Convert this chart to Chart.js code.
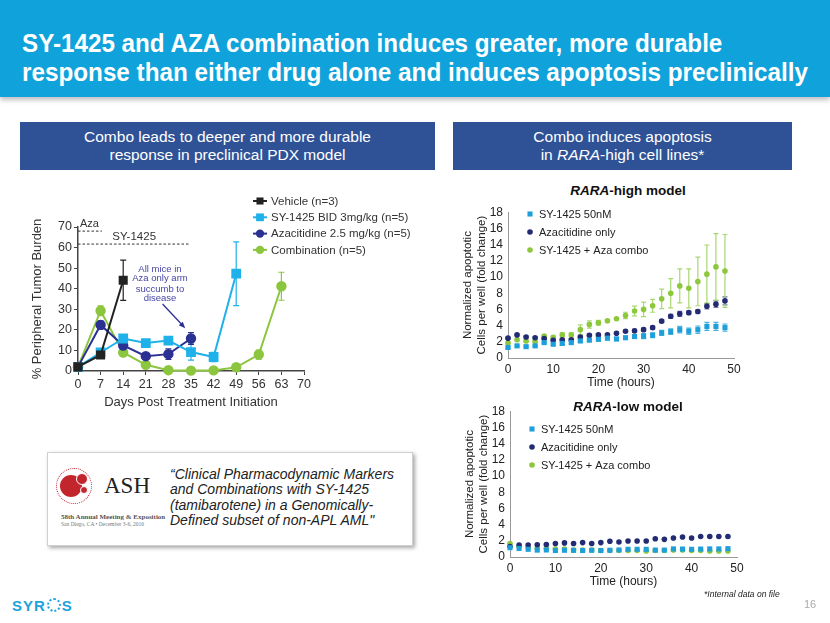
<!DOCTYPE html>
<html>
<head>
<meta charset="utf-8">
<script src="https://cdn.jsdelivr.net/npm/chart.js@4.4.0/dist/chart.umd.min.js"></script>
<style>
  body { margin:0; width:830px; height:623px; position:relative; overflow:hidden; background:#fff;
         font-family:"Liberation Sans", Arial, sans-serif; }
  #header { position:absolute; left:0; top:0; width:830px; height:97px; background:#0fa2db;
            box-shadow:0 3px 5px rgba(0,0,0,0.25); }
  .ttl { position:absolute; left:22px; color:#fff; font-weight:bold; font-size:25px; white-space:nowrap;
         transform-origin:0 50%; line-height:30px; }
  .box { position:absolute; top:122px; height:48px; background:#2f5297; color:#fff; font-size:15.5px;
         text-align:center; line-height:18px; display:flex; align-items:center; justify-content:center; }
  canvas { position:absolute; }
  .ctitle { position:absolute; font-weight:bold; font-size:13.5px; color:#111; white-space:nowrap;
            transform:translate(-50%,-50%); }
  #ash { position:absolute; left:47px; top:452px; width:364px; height:92px; background:#fff;
         border:1px solid #d0d0d0; box-shadow:2px 2px 4px rgba(0,0,0,0.35); }
  .quote { position:absolute; left:122px; top:14px; font-style:italic; font-size:14px; line-height:15.4px;
           color:#222; white-space:nowrap; }
</style>
</head>
<body>
<div id="header">
  <div class="ttl" id="t1" style="top:28px">SY-1425 and AZA combination induces greater, more durable</div>
  <div class="ttl" id="t2" style="top:57px">response than either drug alone and induces apoptosis preclinically</div>
</div>

<div class="box" style="left:20px;width:415px"><div>Combo leads to deeper and more durable<br>response in preclinical PDX model</div></div>
<div class="box" style="left:453px;width:339px"><div>Combo induces apoptosis<br>in <i>RARA</i>-high cell lines*</div></div>

<canvas id="pdx" width="390" height="225" style="left:20px;top:190px"></canvas>
<canvas id="high" width="290" height="192" style="left:458px;top:200px"></canvas>
<canvas id="low" width="291" height="192" style="left:460px;top:399px"></canvas>

<div class="ctitle" style="left:628px;top:190px"><i>RARA</i>-high model</div>
<div class="ctitle" style="left:628px;top:406px"><i>RARA</i>-low model</div>

<div id="ash">
  <div style="position:absolute;left:8px;top:15px;width:34px;height:34px;border-radius:50%;border:1px dotted #c3252d;"></div>
  <div style="position:absolute;left:12px;top:22px;width:22px;height:22px;border-radius:50%;background:#c3252d;"></div>
  <div style="position:absolute;left:28px;top:20px;width:10px;height:10px;border-radius:50%;background:#c3252d;border:1.5px solid #fff;"></div>
  <div style="position:absolute;left:32px;top:33px;width:6px;height:6px;border-radius:50%;background:#c3252d;border:1px solid #fff;"></div>
  <div style="position:absolute;left:56px;top:20px;font-family:'Liberation Serif',serif;font-size:23px;color:#222;">ASH</div>
  <div style="position:absolute;left:13px;top:60px;font-family:'Liberation Serif',serif;font-size:7px;color:#555;white-space:nowrap;font-weight:bold;">58th Annual Meeting &amp; Exposition</div>
  <div style="position:absolute;left:13px;top:68px;font-family:'Liberation Serif',serif;font-size:5.5px;color:#777;white-space:nowrap;">San Diego, CA • December 3-6, 2016</div>
  <div class="quote">“Clinical Pharmacodynamic Markers<br>and Combinations with SY-1425<br>(tamibarotene) in a Genomically-<br>Defined subset of non-APL AML"</div>
</div>

<div style="position:absolute;left:704px;top:589px;font-size:8.5px;font-style:italic;color:#222;white-space:nowrap">*Internal data on file</div>
<div style="position:absolute;left:804px;top:598px;font-size:11px;color:#aaa">16</div>
<div style="position:absolute;left:12px;top:597px;font-size:15px;font-weight:bold;color:#1ea3dc;letter-spacing:1px;white-space:nowrap">SYR<span style="display:inline-block;width:10px;height:10px;border:2px dotted #1ea3dc;border-radius:50%;vertical-align:-1px;margin:0 1px"></span>S</div>

<script>
// PDX model, % peripheral tumor burden by day
const days = [0, 7, 14, 21, 28, 35, 42, 49, 56, 63];
const vehicleY = [2, 7.8, 44.1];
const vehicleErr = [0, 0, 9.8];
const syBidY = [2, 9, 15.8, 13.6, 14.8, 9.2, 6.8, 47.3];
const syBidErr = [0, 1, 1.5, 1, 1.5, 3.9, 2.3, 15.5];
const azaY = [2, 22.4, 12.4, 7.2, 8.2, 15.8];
const azaErr = [0, 2, 1.5, 0.8, 2.6, 2.9];
const comboY = [2, 29.3, 9, 3, 0.4, 0.2, 0.3, 1.8, 8, 41.2];
const comboErr = [0, 2.4, 0.8, 0.4, 0.3, 0.2, 0.3, 0.5, 2.2, 6.8];
const pdxLabels = ['Vehicle (n=3)', 'SY-1425 BID 3mg/kg (n=5)', 'Azacitidine 2.5 mg/kg (n=5)', 'Combination (n=5)'];
const azaRefX = [0, 7.4], azaRefY = [68, 68];
const syRefX = [0, 34.7], syRefY = [61.7, 61.7];

// cell line apoptosis, fold change by hour
const hours = [0, 2, 4, 6, 8, 10, 12, 14, 16, 18, 20, 22, 24, 26, 28, 30, 32, 34, 36, 38, 40, 42, 44, 46, 48];
const highSy = [1.3, 1.5, 1.4, 1.5, 1.9, 1.7, 1.8, 1.9, 2.1, 2.2, 2.3, 2.45, 2.35, 2.5, 2.65, 2.7, 2.8, 3.1, 3.25, 3.5, 3.3, 3.5, 3.9, 3.9, 3.75];
const highSyErr = [0.1, 0.1, 0.1, 0.1, 0.1, 0.15, 0.15, 0.15, 0.15, 0.15, 0.15, 0.2, 0.2, 0.2, 0.2, 0.3, 0.3, 0.3, 0.35, 0.4, 0.4, 0.45, 0.5, 0.5, 0.45];
const highAza = [2.45, 2.85, 2.6, 2.5, 2.4, 2.2, 2.25, 2.25, 2.6, 2.8, 2.85, 2.85, 3.05, 3.3, 3.35, 3.5, 3.75, 4.55, 5.15, 5.45, 5.6, 5.75, 6.4, 6.65, 7.05];
const highAzaErr = [0.1, 0.1, 0.1, 0.1, 0.1, 0.1, 0.1, 0.1, 0.15, 0.15, 0.15, 0.15, 0.15, 0.15, 0.2, 0.2, 0.2, 0.2, 0.25, 0.3, 0.2, 0.2, 0.35, 0.4, 0.5];
const highCombo = [1.85, 2.25, 2.1, 2.05, 2.7, 2.55, 2.85, 2.85, 3.5, 4.15, 4.35, 4.6, 4.85, 5.25, 5.8, 6.0, 6.45, 7.3, 8.0, 8.9, 8.6, 9.45, 10.35, 11.25, 10.75];
const highComboErr = [0.1, 0.1, 0.1, 0.1, 0.2, 0.2, 0.25, 0.25, 0.6, 0.45, 0.3, 0.15, 0.15, 0.4, 0.6, 0.9, 0.8, 1.2, 1.8, 2.1, 2.4, 3.0, 3.6, 4.1, 4.5];
const lowSy = [1.15, 1.05, 0.95, 0.85, 0.87, 0.8, 0.83, 0.82, 0.8, 0.83, 0.8, 0.83, 0.87, 0.95, 0.95, 0.95, 0.85, 0.85, 1.0, 0.98, 0.95, 0.98, 1.0, 1.0, 1.03];
const lowAza = [1.3, 1.47, 1.47, 1.5, 1.55, 1.66, 1.74, 1.66, 1.78, 1.66, 1.78, 1.94, 1.86, 1.98, 1.98, 1.98, 2.26, 2.18, 2.34, 2.46, 2.34, 2.54, 2.54, 2.54, 2.54];
const lowCombo = [1.66, 1.27, 1.15, 1.07, 1.07, 0.99, 0.99, 0.87, 0.87, 0.87, 0.8, 0.8, 0.8, 0.8, 0.8, 0.75, 0.8, 0.8, 0.87, 0.87, 0.8, 0.8, 0.75, 0.75, 0.75];
const cellLabels = ['SY-1425 50nM', 'Azacitidine only', 'SY-1425 + Aza combo'];

const FONT = '"Liberation Sans", Arial, sans-serif';
Chart.defaults.font.family = FONT;
Chart.defaults.color = '#222';

function fitWidth(id, w) {
  const el = document.getElementById(id);
  el.style.transform = 'scaleX(' + (w / el.scrollWidth) + ')';
}
fitWidth('t1', 700);
fitWidth('t2', 786);

function pts(xs, ys) {
  return ys.map((v, i) => ({ x: xs[i], y: v }));
}

function marker(ctx, style, x, y, r) {
  ctx.beginPath();
  if (style === 'rect') {
    const s = r * Math.SQRT1_2;
    ctx.rect(x - s, y - s, 2 * s, 2 * s);
  } else {
    ctx.arc(x, y, r, 0, Math.PI * 2);
  }
  ctx.fill();
}

// vertical error bars with caps, drawn behind the markers
const errorBars = {
  id: 'errorBars',
  beforeDatasetsDraw(chart) {
    const ctx = chart.ctx;
    const ys = chart.scales.y;
    chart.data.datasets.forEach((ds, i) => {
      if (!ds.err) return;
      const meta = chart.getDatasetMeta(i);
      ctx.save();
      ctx.strokeStyle = ds.errColor || ds.borderColor;
      ctx.lineWidth = 1.2;
      meta.data.forEach((p, j) => {
        const e = ds.err[j];
        if (!e) return;
        const v = ds.data[j].y;
        const top = ys.getPixelForValue(v + e);
        const bot = ys.getPixelForValue(v - e);
        const c = ds.cap || 3;
        ctx.beginPath();
        ctx.moveTo(p.x, top); ctx.lineTo(p.x, bot);
        ctx.moveTo(p.x - c, top); ctx.lineTo(p.x + c, top);
        ctx.moveTo(p.x - c, bot); ctx.lineTo(p.x + c, bot);
        ctx.stroke();
      });
      ctx.restore();
    });
  }
};

// hand placed legend list
const listLegend = {
  id: 'listLegend',
  afterDraw(chart, args, o) {
    const ctx = chart.ctx;
    ctx.save();
    ctx.font = o.font;
    ctx.textBaseline = 'middle';
    let row = 0;
    chart.data.datasets.forEach(ds => {
      if (!ds.label) return;
      const y = o.y + row * o.gap;
      if (o.line) {
        ctx.strokeStyle = ds.borderColor;
        ctx.lineWidth = 2;
        ctx.beginPath();
        ctx.moveTo(o.x - o.line, y); ctx.lineTo(o.x + o.line, y);
        ctx.stroke();
      }
      ctx.fillStyle = ds.pointBackgroundColor;
      marker(ctx, ds.pointStyle, o.x, y, ds.pointRadius);
      ctx.fillStyle = o.color;
      ctx.fillText(ds.label, o.textX, y + 0.5);
      row++;
    });
    ctx.restore();
  }
};

// reference labels + arrow note on the PDX chart
const pdxNotes = {
  id: 'pdxNotes',
  afterDatasetsDraw(chart, args, o) {
    const ctx = chart.ctx, xs = chart.scales.x, ys = chart.scales.y;
    ctx.save();
    ctx.textBaseline = 'middle';
    o.texts.forEach(t => {
      ctx.font = t.font;
      ctx.fillStyle = t.color;
      ctx.textAlign = t.align;
      ctx.fillText(t.text, xs.getPixelForValue(t.x), ys.getPixelForValue(t.y));
    });
    const x1 = xs.getPixelForValue(o.arrow[0]), y1 = ys.getPixelForValue(o.arrow[1]);
    const x2 = xs.getPixelForValue(o.arrow[2]), y2 = ys.getPixelForValue(o.arrow[3]);
    const a = Math.atan2(y2 - y1, x2 - x1);
    ctx.strokeStyle = o.arrowColor;
    ctx.fillStyle = o.arrowColor;
    ctx.lineWidth = 1.3;
    ctx.beginPath();
    ctx.moveTo(x1, y1);
    ctx.lineTo(x2 - 5 * Math.cos(a), y2 - 5 * Math.sin(a));
    ctx.stroke();
    ctx.beginPath();
    ctx.moveTo(x2, y2);
    ctx.lineTo(x2 - 7 * Math.cos(a - 0.4), y2 - 7 * Math.sin(a - 0.4));
    ctx.lineTo(x2 - 7 * Math.cos(a + 0.4), y2 - 7 * Math.sin(a + 0.4));
    ctx.closePath();
    ctx.fill();
    ctx.restore();
  }
};

function series(label, xs, ys, err, color, style, r) {
  return {
    label: label, data: pts(xs, ys), err: err,
    borderColor: color, backgroundColor: color, pointBackgroundColor: color, pointBorderColor: color,
    pointStyle: style, pointRadius: r, pointHoverRadius: r, borderWidth: 2, showLine: true
  };
}

function refLine(xs, ys) {
  return {
    data: pts(xs, ys), borderColor: '#333', borderWidth: 1, borderDash: [2.5, 2],
    pointRadius: 0, showLine: true
  };
}

const VEH = '#222222', SYC = '#1fb1ea', AZC = '#2b3192', COC = '#8cc63f';

new Chart(document.getElementById('pdx'), {
  type: 'scatter',
  data: {
    datasets: [
      refLine(azaRefX, azaRefY),
      refLine(syRefX, syRefY),
      series(pdxLabels[0], days, vehicleY, vehicleErr, VEH, 'rect', 5),
      series(pdxLabels[1], days, syBidY, syBidErr, SYC, 'rect', 5.5),
      series(pdxLabels[2], days, azaY, azaErr, AZC, 'circle', 4.2),
      series(pdxLabels[3], days, comboY, comboErr, COC, 'circle', 4.2)
    ]
  },
  options: {
    responsive: false, animation: false, clip: false,
    layout: { padding: { top: 37, right: 106, left: 0, bottom: 0 } },
    plugins: {
      legend: { display: false }, tooltip: { enabled: false },
      listLegend: { x: 240, y: 11, gap: 16.3, line: 7, textX: 251, font: '11.5px ' + FONT, color: '#333' },
      pdxNotes: {
        texts: [
          { text: 'Aza', x: 0.6, y: 71.6, align: 'left', font: '11px ' + FONT, color: '#333' },
          { text: 'SY-1425', x: 17.4, y: 65.2, align: 'center', font: '11.5px ' + FONT, color: '#333' },
          { text: 'All mice in', x: 25.4, y: 49.6, align: 'center', font: '9.5px ' + FONT, color: '#4545a5' },
          { text: 'Aza only arm', x: 25.4, y: 44.8, align: 'center', font: '9.5px ' + FONT, color: '#4545a5' },
          { text: 'succumb to', x: 25.4, y: 39.9, align: 'center', font: '9.5px ' + FONT, color: '#4545a5' },
          { text: 'disease', x: 25.4, y: 35.1, align: 'center', font: '9.5px ' + FONT, color: '#4545a5' }
        ],
        arrow: [26.2, 32.6, 33.2, 20.8],
        arrowColor: '#2b3192'
      }
    },
    scales: {
      x: {
        type: 'linear', min: 0, max: 70,
        ticks: { stepSize: 7, autoSkip: false, font: { size: 12.5 }, color: '#333', padding: 2 },
        grid: { drawOnChartArea: false, tickLength: 4, color: '#444' },
        border: { color: '#444', width: 1.5 },
        title: { display: true, text: 'Days Post Treatment Initiation', font: { size: 13 }, color: '#333', padding: { top: 0, bottom: 5 } },
        afterFit: s => { s.height = 44; }
      },
      y: {
        min: 0, max: 70,
        ticks: { stepSize: 10, autoSkip: false, font: { size: 12.5 }, color: '#333', padding: 2 },
        grid: { drawOnChartArea: false, tickLength: 4, color: '#444' },
        border: { color: '#444', width: 1.5 },
        title: { display: true, text: '% Peripheral Tumor Burden', font: { size: 13 }, color: '#333', padding: { top: 10, bottom: 0 } },
        afterFit: s => { s.width = 58; }
      }
    }
  },
  plugins: [errorBars, listLegend, pdxNotes]
});

const C_SY = '#1e9fd9', C_AZA = '#232c73', C_CO = '#8dc83c';

function dots(label, ys, err, color, errColor, style, r) {
  return {
    label: label, data: pts(hours, ys), err: err, errColor: errColor, cap: 2.5,
    borderColor: color, backgroundColor: color, pointBackgroundColor: color, pointBorderColor: color,
    pointStyle: style, pointRadius: r, pointHoverRadius: r, borderWidth: 0, showLine: false
  };
}

function cellChart(id, sets, legendY) {
  return new Chart(document.getElementById(id), {
    type: 'scatter',
    data: { datasets: sets },
    options: {
      responsive: false, animation: false, clip: false,
      layout: { padding: { top: 7, right: 14, left: 0, bottom: 0 } },
      plugins: {
        legend: { display: false }, tooltip: { enabled: false },
        listLegend: { x: 72, y: legendY, gap: 18, line: 0, textX: 81, font: '11px ' + FONT, color: '#222' }
      },
      scales: {
        x: {
          type: 'linear', min: 0, max: 50,
          ticks: { stepSize: 10, autoSkip: false, font: { size: 12 }, color: '#222', padding: 4 },
          grid: { display: false, drawTicks: false },
          border: { color: '#999', width: 1 },
          title: { display: true, text: 'Time (hours)', font: { size: 12 }, color: '#222', padding: { top: 0, bottom: 2 } },
          afterFit: s => { s.height = 34; }
        },
        y: {
          min: 0, max: 18,
          ticks: { stepSize: 2, autoSkip: false, font: { size: 12 }, color: '#222', padding: 5 },
          grid: { display: false, drawTicks: false },
          border: { color: '#999', width: 1 },
          title: { display: true, text: ['Normalized apoptotic', 'Cells per well (fold change)'], font: { size: 11.5, lineHeight: 1.2 }, color: '#222', padding: { top: 3, bottom: 0 } },
          afterFit: s => { s.width = 50; }
        }
      }
    },
    plugins: [errorBars, listLegend]
  });
}

cellChart('high', [
  dots(cellLabels[0], highSy, highSyErr, C_SY, '#45b3e3', 'rect', 3.6),
  dots(cellLabels[1], highAza, highAzaErr, C_AZA, '#6e74a8', 'circle', 2.8),
  dots(cellLabels[2], highCombo, highComboErr, C_CO, '#a9d772', 'circle', 2.8)
], 14);

cellChart('low', [
  dots(cellLabels[0], lowSy, null, C_SY, C_SY, 'rect', 3.6),
  dots(cellLabels[1], lowAza, null, C_AZA, C_AZA, 'circle', 2.8),
  dots(cellLabels[2], lowCombo, null, C_CO, C_CO, 'circle', 2.8)
], 30);
</script>
</body>
</html>
